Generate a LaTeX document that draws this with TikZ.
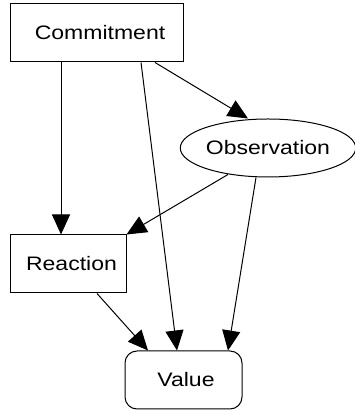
\documentclass[tikz,border=0pt]{standalone}
\usepackage{fontspec}
\setmainfont{Liberation Sans}[FakeStretch=1.18]
\usetikzlibrary{shapes.geometric,arrows.meta}
\begin{document}
\begin{tikzpicture}[x=1pt,y=1pt,
  every node/.style={font=\fontsize{19.5}{22}\selectfont, line width=1pt, inner sep=0pt},
  box/.style={draw, rectangle, minimum height=58pt},
  edge/.style={line width=1pt, -{Triangle[length=20pt,width=18pt]}}]
\useasboundingbox (0,0) rectangle (354,411);
\node[box, minimum width=173pt] (C) at (96.5,378) {\hspace{7pt}Commitment};
\node[draw, ellipse, minimum width=170pt, minimum height=58pt] (O) at (268,263) {Observation};
\node[box, minimum width=116pt] (R) at (68,147) {\hspace{7pt}Reaction};
\node[box, rounded corners=12pt, minimum width=117pt] (V) at (183.5,31) {\hspace{5pt}Value};
\draw[edge] ([xshift=-35.5pt]C.south) -- ([xshift=-7pt]R.north);
\draw[edge] ([xshift=44.5pt]C.south) -- ([xshift=-6.5pt]V.north);
\draw[edge] ([xshift=58.5pt]C.south) -- ([xshift=-20pt]O.north);
\draw[edge] ([xshift=-40pt,yshift=3pt]O.south) -- (R.north east);
\draw[edge] ([xshift=-12pt]O.south) -- ([xshift=44.5pt]V.north);
\draw[edge] ([xshift=29pt]R.south) -- ([xshift=-35.5pt]V.north);
\end{tikzpicture}
\end{document}
